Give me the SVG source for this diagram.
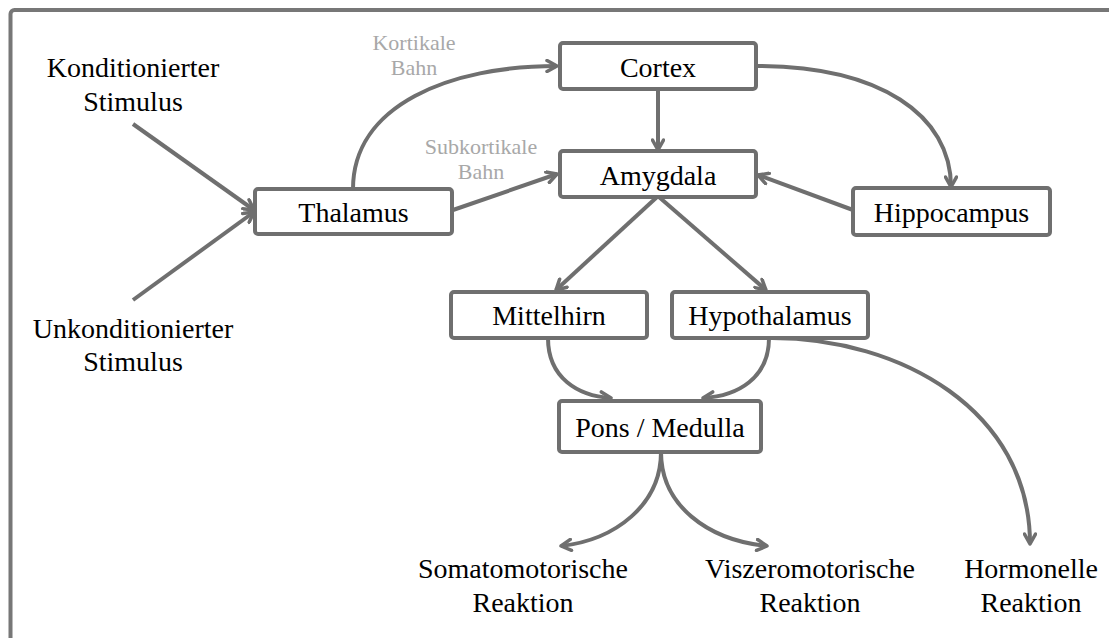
<svg xmlns="http://www.w3.org/2000/svg" width="1109" height="638" viewBox="0 0 1109 638">
<style>
.box{fill:#fff;stroke:#6f6f6f;stroke-width:4}
.t{font-family:"Liberation Serif","Times New Roman",serif;font-size:28px;fill:#000;text-anchor:middle}
.g{font-family:"Liberation Serif","Times New Roman",serif;font-size:22px;fill:#a8a8a8;text-anchor:middle}
.c{fill:none;stroke:#6f6f6f;stroke-width:4}
</style>
<defs>
<marker id="ah" viewBox="0 0 14 14" refX="12" refY="7" markerWidth="14" markerHeight="14" markerUnits="userSpaceOnUse" orient="auto">
<path d="M2,1.5 L12,7 L2,12.5" fill="none" stroke="#6f6f6f" stroke-width="3.5" stroke-linecap="round" stroke-linejoin="round"/>
</marker>
</defs>
<rect x="10.5" y="10" width="1110" height="640" rx="4" fill="#fff" stroke="#777" stroke-width="4"/>
<g id="connectors">
<path class="c" d="M133,124 L254,210" marker-end="url(#ah)"/>
<path class="c" d="M133,300 L254,212" marker-end="url(#ah)"/>
<path class="c" d="M353,189 C353,105 450,66 557,66" marker-end="url(#ah)"/>
<path class="c" d="M453,210 L557,174" marker-end="url(#ah)"/>
<path class="c" d="M658,89 L658,150" marker-end="url(#ah)"/>
<path class="c" d="M756,66 C880,66 951,115 951,187" marker-end="url(#ah)"/>
<path class="c" d="M853,210 L758,175" marker-end="url(#ah)"/>
<path class="c" d="M657,197 L556,290" marker-end="url(#ah)"/>
<path class="c" d="M659,197 L766,290" marker-end="url(#ah)"/>
<path class="c" d="M548,338 C548,378 578,396 611,398" marker-end="url(#ah)"/>
<path class="c" d="M769,338 C769,378 738,396 703,398" marker-end="url(#ah)"/>
<path class="c" d="M772,338 C900,338 1030,410 1030,544" marker-end="url(#ah)"/>
<path class="c" d="M661,452 C661,505 615,540 561,546" marker-end="url(#ah)"/>
<path class="c" d="M661,452 C661,505 707,540 767,546" marker-end="url(#ah)"/>
</g>
<g id="thalamus"><rect class="box" x="255" y="189" width="197" height="45" rx="3"/><text class="t" x="353.5" y="222">Thalamus</text></g>
<g id="cortex"><rect class="box" x="560" y="43" width="196" height="46" rx="3"/><text class="t" x="658" y="77">Cortex</text></g>
<g id="amygdala"><rect class="box" x="560" y="151" width="196" height="46" rx="3"/><text class="t" x="658" y="185">Amygdala</text></g>
<g id="hippocampus"><rect class="box" x="853" y="188" width="197" height="47" rx="3"/><text class="t" x="951.5" y="222">Hippocampus</text></g>
<g id="mittelhirn"><rect class="box" x="451" y="292" width="196" height="46" rx="3"/><text class="t" x="549" y="325">Mittelhirn</text></g>
<g id="hypothalamus"><rect class="box" x="672" y="292" width="196" height="46" rx="3"/><text class="t" x="770" y="325">Hypothalamus</text></g>
<g id="pons"><rect class="box" x="559" y="401" width="202" height="51" rx="3"/><text class="t" x="660" y="437">Pons / Medulla</text></g>
<g id="ks"><text class="t" x="133" y="77">Konditionierter</text><text class="t" x="133" y="111">Stimulus</text></g>
<g id="us"><text class="t" x="133" y="338">Unkonditionierter</text><text class="t" x="133" y="371">Stimulus</text></g>
<g id="kb"><text class="g" x="414" y="50">Kortikale</text><text class="g" x="414" y="75">Bahn</text></g>
<g id="sb"><text class="g" x="481" y="154">Subkortikale</text><text class="g" x="481" y="179">Bahn</text></g>
<g id="somato"><text class="t" x="523" y="578">Somatomotorische</text><text class="t" x="523" y="612">Reaktion</text></g>
<g id="viszero"><text class="t" x="810" y="578">Viszeromotorische</text><text class="t" x="810" y="612">Reaktion</text></g>
<g id="hormon"><text class="t" x="1031" y="578">Hormonelle</text><text class="t" x="1031" y="612">Reaktion</text></g>
</svg>
